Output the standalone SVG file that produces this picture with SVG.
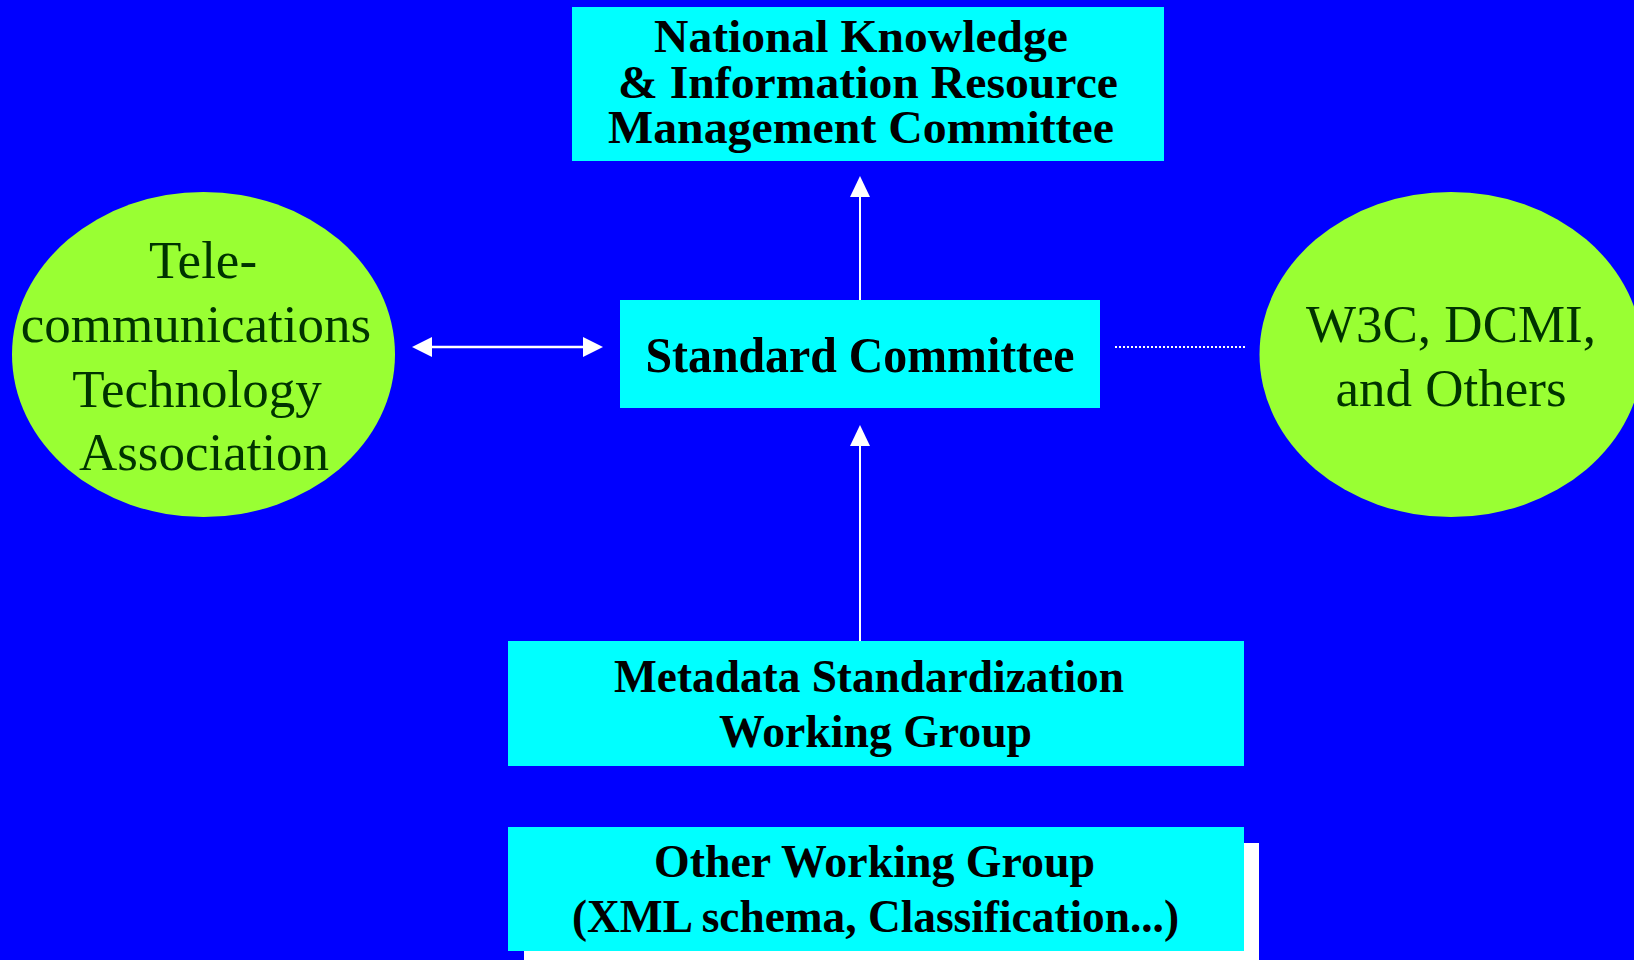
<svg xmlns="http://www.w3.org/2000/svg" width="1634" height="960" viewBox="0 0 1634 960">
<defs>
<style>
.box{fill:#00FFFF}
.ell{fill:#99FF33}
.bt{font-family:"Liberation Serif","Times New Roman",serif;font-weight:bold;font-size:47px;fill:#000;text-anchor:middle}
.et{font-family:"Liberation Serif","Times New Roman",serif;font-size:53px;fill:#003300;text-anchor:middle}
.ln{stroke:#FFFFFF;fill:none}
.ah{fill:#FFFFFF}
</style>
</defs>
<rect x="0" y="0" width="1634" height="960" fill="#0000FF"/>
<g id="connectors">
<line class="ln" x1="860" y1="300" x2="860" y2="195" stroke-width="2"/>
<polygon class="ah" points="860,176 850,197 870,197"/>
<line class="ln" x1="860" y1="641" x2="860" y2="444" stroke-width="2"/>
<polygon class="ah" points="860,425 850,446 870,446"/>
<line class="ln" x1="430" y1="347" x2="586" y2="347" stroke-width="2.5"/>
<polygon class="ah" points="412,347 432,337 432,357"/>
<polygon class="ah" points="603,347 583,337 583,357"/>
<line class="ln" x1="1115" y1="347" x2="1245" y2="347" stroke-width="2" stroke-dasharray="2 2"/>
</g>
<g id="national-committee">
<rect class="box" x="572" y="7" width="592" height="154"/>
<text class="bt" x="861" y="52" textLength="414" lengthAdjust="spacingAndGlyphs">National Knowledge</text>
<text class="bt" x="868" y="98" textLength="500" lengthAdjust="spacingAndGlyphs">&amp; Information Resource</text>
<text class="bt" x="861" y="143" textLength="506" lengthAdjust="spacingAndGlyphs">Management Committee</text>
</g>
<g id="standard-committee">
<rect class="box" x="620" y="300" width="480" height="108"/>
<text class="bt" x="860" y="372" style="font-size:50px" textLength="429" lengthAdjust="spacingAndGlyphs">Standard Committee</text>
</g>
<g id="metadata-wg">
<rect class="box" x="508" y="641" width="736" height="125"/>
<text class="bt" x="869" y="692" textLength="510" lengthAdjust="spacingAndGlyphs">Metadata Standardization</text>
<text class="bt" x="875.5" y="747" textLength="313" lengthAdjust="spacingAndGlyphs">Working Group</text>
</g>
<g id="other-wg">
<rect x="524" y="843" width="735" height="117" fill="#FFFFFF"/>
<rect class="box" x="508" y="827" width="736" height="124"/>
<text class="bt" x="874.5" y="877" textLength="441" lengthAdjust="spacingAndGlyphs">Other Working Group</text>
<text class="bt" x="875.5" y="932" textLength="607" lengthAdjust="spacingAndGlyphs">(XML schema, Classification...)</text>
</g>
<g id="tta">
<ellipse class="ell" cx="203.5" cy="354.5" rx="191.5" ry="162.5"/>
<text class="et" x="203" y="278">Tele-</text>
<text class="et" x="196" y="342">communications</text>
<text class="et" x="197" y="407">Technology</text>
<text class="et" x="204" y="470">Association</text>
</g>
<g id="w3c">
<ellipse class="ell" cx="1451" cy="354.5" rx="191.5" ry="162.5"/>
<text class="et" x="1451" y="342">W3C, DCMI,</text>
<text class="et" x="1451" y="406">and Others</text>
</g>
</svg>
